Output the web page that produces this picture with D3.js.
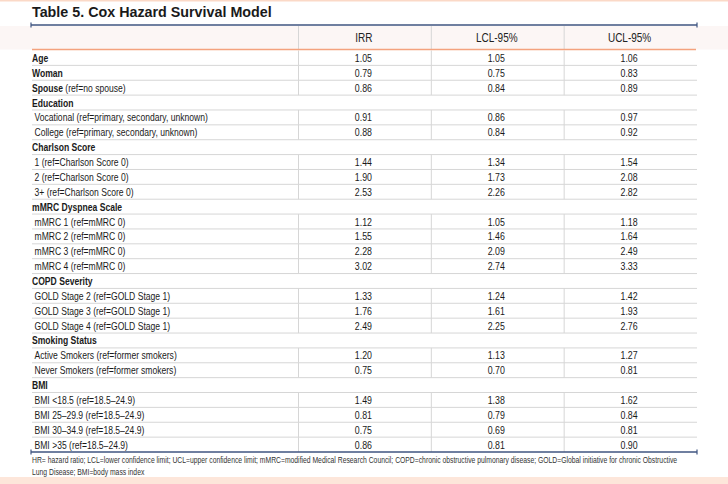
<!DOCTYPE html>
<html><head><meta charset="utf-8">
<script src="https://cdn.jsdelivr.net/npm/d3@7"></script>
<style>html,body{margin:0;padding:0;background:#fff;}svg{display:block;}</style>
</head><body><svg id="c" width="728" height="484"></svg>
<script>
const title = "Table 5. Cox Hazard Survival Model";
const columns = ["IRR", "LCL-95%", "UCL-95%"];
// [bold part, regular part]; rows with null values are group headers
const rowLabels = [
  ["Age", ""], ["Woman", ""], ["Spouse", " (ref=no spouse)"],
  ["Education", ""],
  ["", "Vocational (ref=primary, secondary, unknown)"],
  ["", "College (ref=primary, secondary, unknown)"],
  ["Charlson Score", ""],
  ["", "1 (ref=Charlson Score 0)"], ["", "2 (ref=Charlson Score 0)"], ["", "3+ (ref=Charlson Score 0)"],
  ["mMRC Dyspnea Scale", ""],
  ["", "mMRC 1 (ref=mMRC 0)"], ["", "mMRC 2 (ref=mMRC 0)"], ["", "mMRC 3 (ref=mMRC 0)"], ["", "mMRC 4 (ref=mMRC 0)"],
  ["COPD Severity", ""],
  ["", "GOLD Stage 2 (ref=GOLD Stage 1)"], ["", "GOLD Stage 3 (ref=GOLD Stage 1)"], ["", "GOLD Stage 4 (ref=GOLD Stage 1)"],
  ["Smoking Status", ""],
  ["", "Active Smokers (ref=former smokers)"], ["", "Never Smokers (ref=former smokers)"],
  ["BMI", ""],
  ["", "BMI <18.5 (ref=18.5–24.9)"], ["", "BMI 25–29.9 (ref=18.5–24.9)"], ["", "BMI 30–34.9 (ref=18.5–24.9)"], ["", "BMI >35 (ref=18.5–24.9)"]
];
const irr = ["1.05","0.79","0.86",null,"0.91","0.88",null,"1.44","1.90","2.53",null,"1.12","1.55","2.28","3.02",null,"1.33","1.76","2.49",null,"1.20","0.75",null,"1.49","0.81","0.75","0.86"];
const lcl = ["1.05","0.75","0.84",null,"0.86","0.84",null,"1.34","1.73","2.26",null,"1.05","1.46","2.09","2.74",null,"1.24","1.61","2.25",null,"1.13","0.70",null,"1.38","0.79","0.69","0.81"];
const ucl = ["1.06","0.83","0.89",null,"0.97","0.92",null,"1.54","2.08","2.82",null,"1.18","1.64","2.49","3.33",null,"1.42","1.93","2.76",null,"1.27","0.81",null,"1.62","0.84","0.81","0.90"];
const footnote = [
  "HR= hazard ratio; LCL=lower confidence limit; UCL=upper confidence limit; mMRC=modified Medical Research Council; COPD=chronic obstructive pulmonary disease; GOLD=Global initiative for chronic Obstructive",
  "Lung Disease; BMI=body mass index"
];

const svg = d3.select("#c");
const font = "'Liberation Sans',Arial,sans-serif";
const navy = "#3f5480", salmon = "#f4a27e", grid = "#d6d6d6";
const L = 31, R = 697, colStart = 298.5;
const SX = 0.78; // condensed look

// page decorations
svg.append("rect").attr("x",0).attr("y",0).attr("width",728).attr("height",1.5).attr("fill","#fbd9c7");
svg.append("rect").attr("x",0).attr("y",477).attr("width",728).attr("height",7).attr("fill","#fde6da");

svg.append("text").attr("x",32).attr("y",17).text(title)
  .attr("font-family",font).attr("font-weight","bold")
  .attr("font-size",14.3).attr("fill","#1a1a1a");

// header band
const hTop = 26, hBot = 49.5;
svg.append("rect").attr("x",0).attr("y",hTop).attr("width",728).attr("height",hBot-hTop).attr("fill","#fcf6f5");

const x = d3.scaleBand().domain(columns).range([colStart, R]);
const y = d3.scaleBand().domain(d3.range(rowLabels.length)).range([50.5, 452]);

// header texts
svg.selectAll("text.h").data(columns).join("text").attr("class","h")
  .attr("transform", d => `translate(${x(d) + x.bandwidth()/2 - 1},42) scale(0.8,1)`)
  .attr("text-anchor","middle").attr("font-family",font).attr("font-size",12.5).attr("fill","#222").text(d=>d);
svg.selectAll("line.hd").data(columns).join("line").attr("class","hd")
  .attr("x1",d=>x(d)).attr("x2",d=>x(d)).attr("y1",hTop).attr("y2",hBot).attr("stroke",grid).attr("stroke-width",1);

// row lines
svg.selectAll("line.r").data(d3.range(1,rowLabels.length)).join("line").attr("class","r")
  .attr("x1",L+1).attr("x2",R).attr("y1",i=>y(i)).attr("y2",i=>y(i)).attr("stroke",grid).attr("stroke-width",1);

// vertical dividers in rows with values
rowLabels.forEach((r,i) => {
  if (irr[i] === null) return;
  columns.forEach(c => {
    svg.append("line").attr("x1",x(c)).attr("x2",x(c)).attr("y1",y(i)).attr("y2",y(i)+y.bandwidth())
      .attr("stroke",grid).attr("stroke-width",1);
  });
});

// labels
const lab = svg.selectAll("text.l").data(rowLabels).join("text").attr("class","l")
  .attr("transform",(d,i)=>`translate(${d[0] ? 32 : 34.5},${y(i)+y.bandwidth()/2+4}) scale(${SX},1)`)
  .attr("font-family",font).attr("font-size",11).attr("fill","#1a1a1a");
lab.append("tspan").attr("font-weight","bold").text(d=>d[0]);
lab.append("tspan").text(d=>d[1]);

// values
const vals = [irr, lcl, ucl];
columns.forEach((c,ci) => {
  svg.selectAll("text.v"+ci).data(vals[ci]).join("text").attr("class","v"+ci)
    .attr("transform",(d,i)=>`translate(${x(c)+x.bandwidth()/2 - 1.5},${y(i)+y.bandwidth()/2+4}) scale(0.8,1)`)
    .attr("text-anchor","middle").attr("font-family",font).attr("font-size",11).attr("fill","#1a1a1a")
    .text(d=>d===null?"":d);
});

// header salmon underline
svg.append("line").attr("x1",L+1).attr("x2",R-1).attr("y1",49.5).attr("y2",49.5).attr("stroke",salmon).attr("stroke-width",1.6);

// navy rules with end ticks
[25, 452].forEach(yy => {
  svg.append("line").attr("x1",L).attr("x2",R).attr("y1",yy).attr("y2",yy).attr("stroke",navy).attr("stroke-width",1.3);
  [L, R].forEach(xx => svg.append("line").attr("x1",xx).attr("x2",xx).attr("y1",yy-2.5).attr("y2",yy+2.5).attr("stroke",navy).attr("stroke-width",1.2));
});

// footnote
svg.selectAll("text.f").data(footnote).join("text").attr("class","f")
  .attr("transform",(d,i)=>`translate(32,${463+i*12}) scale(0.8,1)`)
  .attr("font-family",font).attr("font-size",8.5).attr("fill","#333").text(d=>d);
</script></body></html>
